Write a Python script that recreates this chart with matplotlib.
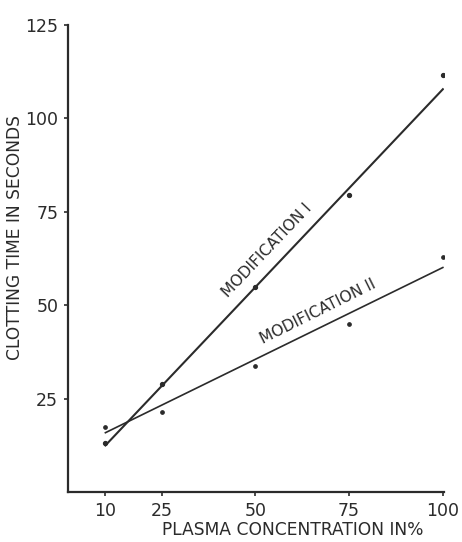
import matplotlib
matplotlib.use("Agg")
import matplotlib.pyplot as plt

# Plasma concentration (%) and measured clotting times (s)
concentration = [10, 25, 50, 75, 100]
mod1_points = [13.2, 29.0, 54.8, 79.6, 111.5]
mod2_points = [17.4, 21.4, 33.8, 45.0, 62.8]

# fitted lines drawn in the original (end points)
line_x = [10, 100]
mod1_line = [12.5, 107.8]
mod2_line = [15.9, 60.1]

x_ticks = [10, 25, 50, 75, 100]
y_ticks = [25, 50, 75, 100, 125]

ink = "#2b2b2b"
plt.rcParams['font.family'] = ['DejaVu Sans']

fig = plt.figure(figsize=(4.62, 5.42), dpi=100)
ax = fig.add_axes([0.147, 0.092, 0.814, 0.862])

ax.plot(line_x, mod1_line, color=ink, lw=1.5)
ax.plot(line_x, mod2_line, color=ink, lw=1.2)
ax.plot(concentration, mod1_points, 'o', color=ink, ms=2.8)
ax.plot(concentration, mod2_points, 'o', color=ink, ms=2.4)

ax.text(53.2, 64.6, "MODIFICATION I", rotation=46.5, ha='center', va='center',
        fontsize=11.2, color=ink, rotation_mode='anchor')
ax.text(66.8, 48.2, "MODIFICATION II", rotation=26.5, ha='center', va='center',
        fontsize=11.2, color=ink, rotation_mode='anchor')

ax.set_xlim(0, 100.3)
ax.set_ylim(0, 125)
ax.set_xticks(x_ticks)
ax.set_yticks(y_ticks)
ax.tick_params(colors=ink, labelsize=12.5, length=3, width=1.2, pad=4)

for side in ['top', 'right']:
    ax.spines[side].set_visible(False)
for side in ['left', 'bottom']:
    ax.spines[side].set_linewidth(1.6)
    ax.spines[side].set_color(ink)

ax.set_ylabel("CLOTTING TIME IN SECONDS", fontsize=12.3, color=ink)
ax.yaxis.set_label_coords(-0.118, 0.546)
ax.set_xlabel("PLASMA CONCENTRATION IN%", fontsize=12.3, color=ink)
ax.xaxis.set_label_coords(0.598, -0.062)

fig.savefig("out.png", dpi=100)
